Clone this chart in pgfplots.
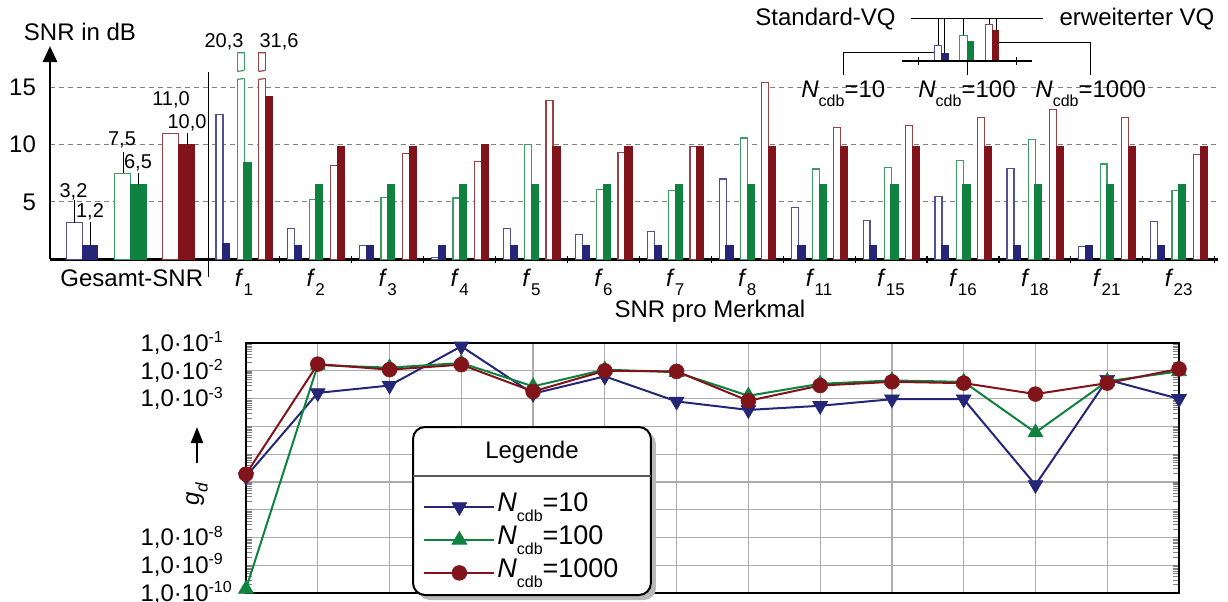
\documentclass[border=0pt]{standalone}
\usepackage{pgfplots}
\pgfplotsset{compat=1.18}
\usepackage{fontspec}
\setmainfont{Liberation Sans}
\usetikzlibrary{arrows.meta}

\definecolor{cblue}{RGB}{38,38,120}
\definecolor{cgreen}{RGB}{14,130,62}
\definecolor{cred}{RGB}{128,20,26}

\newcommand{\fnt}{\fontsize{12}{14}\selectfont}
\newcommand{\sfnt}{\fontsize{10}{12}\selectfont}
\newcommand{\fsub}[1]{\textit{f}\raisebox{-0.35em}{\fontsize{8.5}{9}\selectfont #1}}
\newcommand{\Ncdb}[1]{\textit{N}\raisebox{-0.38em}{\fontsize{8}{9}\selectfont cdb}=#1}
\newcommand{\tenp}[1]{1,0·10\textsuperscript{#1}}

% bar styles: Standard-VQ = outline, erweiterter VQ = filled
\pgfplotsset{
  std/.style={ybar, draw=#1!80, fill=white, line width=0.6pt},
  erw/.style={ybar, draw=#1, fill=#1, line width=0.6pt},
}

\begin{document}
\begin{tikzpicture}[x=0.5pt,y=-0.5pt,font=\fnt]
\useasboundingbox (0,0) rectangle (1228,601);

% ---------------- SNR bars ----------------
\begin{axis}[
  at={(25pt,-129.65pt)}, anchor=south west, scale only axis,
  width=584pt, height=103.25pt,
  xmin=-2.197, xmax=14.047, ymin=0, ymax=18,
  axis x line=bottom, axis y line=left,
  x axis line style={-, line width=1.4pt},
  y axis line style={-, line width=1.4pt},
  ytick={5,10,15}, yticklabels={5,10,15},
  yticklabel style={xshift=-3.5pt},
  ymajorgrids, major grid style={dash pattern=on 2.5pt off 2pt, gray, line width=0.5pt},
  xtick={-1.06,0.5,1.5,2.5,3.5,4.5,5.5,6.5,7.5,8.5,9.5,10.5,11.5,12.5,13.5},
  xticklabels={Gesamt-SNR,\fsub{1},\fsub{2},\fsub{3},\fsub{4},\fsub{5},\fsub{6},\fsub{7},\fsub{8},\fsub{11},\fsub{15},\fsub{16},\fsub{18},\fsub{21},\fsub{23}},
  minor xtick={1,2,...,14},
  major tick length=0pt, minor tick length=3.5pt, tick align=center,
  minor tick style={black, line width=0.6pt},
  tick label style={font=\fnt},
  xticklabel style={yshift=-1.5pt},
  clip mode=individual,
]
% Gesamt-SNR
\addplot[std=cblue,  bar width=0.216, bar shift=-0.797] coordinates {(-1.06,3.2)};
\addplot[erw=cblue,  bar width=0.216, bar shift=-0.581] coordinates {(-1.06,1.2)};
\addplot[std=cgreen, bar width=0.216, bar shift=-0.129] coordinates {(-1.06,7.5)};
\addplot[erw=cgreen, bar width=0.216, bar shift=0.093]  coordinates {(-1.06,6.5)};
\addplot[std=cred,   bar width=0.216, bar shift=0.538]  coordinates {(-1.06,11.0)};
\addplot[erw=cred,   bar width=0.216, bar shift=0.761]  coordinates {(-1.06,10.0)};

% SNR pro Merkmal
\addplot[std=cblue, bar width=0.097, bar shift=-0.34] coordinates {
  (0.5,12.65) (1.5,2.67) (2.5,1.22) (3.5,0.15) (4.5,2.67) (5.5,2.18) (6.5,2.44)
  (7.5,7.0) (8.5,4.5) (9.5,3.4) (10.5,5.49) (11.5,7.9) (12.5,1.1) (13.5,3.31)};
\addplot[erw=cblue, bar width=0.097, bar shift=-0.246] coordinates {
  (0.5,1.4) (1.5,1.2) (2.5,1.2) (3.5,1.2) (4.5,1.2) (5.5,1.2) (6.5,1.2)
  (7.5,1.2) (8.5,1.2) (9.5,1.2) (10.5,1.2) (11.5,1.2) (12.5,1.2) (13.5,1.2)};
\addplot[std=cgreen, bar width=0.097, bar shift=-0.044] coordinates {
  (0.5,20.3) (1.5,5.23) (2.5,5.4) (3.5,5.35) (4.5,10.03) (5.5,6.1) (6.5,5.99)
  (7.5,10.58) (8.5,7.88) (9.5,7.97) (10.5,8.6) (11.5,10.47) (12.5,8.31) (13.5,5.99)};
\addplot[erw=cgreen, bar width=0.097, bar shift=0.049] coordinates {
  (0.5,8.46) (1.5,6.5) (2.5,6.5) (3.5,6.5) (4.5,6.5) (5.5,6.5) (6.5,6.5)
  (7.5,6.5) (8.5,6.5) (9.5,6.5) (10.5,6.5) (11.5,6.5) (12.5,6.5) (13.5,6.5)};
\addplot[std=cred, bar width=0.097, bar shift=0.251] coordinates {
  (0.5,31.6) (1.5,8.2) (2.5,9.19) (3.5,8.52) (4.5,13.84) (5.5,9.3) (6.5,9.8)
  (7.5,15.44) (8.5,11.51) (9.5,11.69) (10.5,12.38) (11.5,13.05) (12.5,12.33) (13.5,9.16)};
\addplot[erw=cred, bar width=0.097, bar shift=0.348] coordinates {
  (0.5,14.19) (1.5,9.8) (2.5,9.8) (3.5,10.0) (4.5,9.8) (5.5,9.8) (6.5,9.8)
  (7.5,9.8) (8.5,9.8) (9.5,9.8) (10.5,9.8) (11.5,9.8) (12.5,9.8) (13.5,9.8)};

% broken bars of f1
\fill[white] (0.385,15.64) -- (0.527,15.78) -- (0.527,16.50) -- (0.385,16.36) -- cycle;
\draw[cgreen!80, line width=0.6pt] (0.4075,15.68) -- (0.5045,15.76) (0.4075,16.38) -- (0.5045,16.46) (0.4075,18) -- (0.5045,18);
\fill[white] (0.680,15.64) -- (0.822,15.78) -- (0.822,16.50) -- (0.680,16.36) -- cycle;
\draw[cred!80, line width=0.6pt] (0.7025,15.68) -- (0.7995,15.76) (0.7025,16.38) -- (0.7995,16.46) (0.7025,18) -- (0.7995,18);
\end{axis}

% y arrow, axis titles and separator
\draw[-{Triangle[width=7pt,length=8pt]}, line width=1.4pt] (50,240) -- (50,46);
\node at (80,32) {SNR in dB};
\node at (710,311) {SNR pro Merkmal};
\draw[line width=0.5pt] (208.3,72) -- (208.3,277);

% value labels
\begin{scope}[font=\sfnt, line width=0.5pt]
\node at (73.5,192) {3,2};  \draw (74,200) -- (74,223);
\node at (90,212) {1,2};    \draw (90,222) -- (90,246);
\node at (122,140) {7,5};   \draw (123,152) -- (123,173);
\node at (138,163) {6,5};   \draw (138,173) -- (138,185);
\node at (171,100) {11,0};
\node at (187,123) {10,0};  \draw (187,133) -- (187,145);
\node at (224,42) {20,3};
\node at (279,42) {31,6};
\end{scope}

% legend inset
\node at (825.5,19) {Standard-VQ};
\node at (1137,19) {erweiterter VQ};
\begin{scope}[line width=0.5pt]
\draw (911,18) -- (1043,18);
\draw (938,18) -- (938,45) (944,18) -- (944,53) (963,18) -- (963,35) (989,18) -- (989,24) (996,18) -- (996,30);
\draw[cblue!80, fill=white] (934,61) rectangle (941,45);
\fill[cblue] (941,61) rectangle (949,53);
\draw[cgreen!80, fill=white] (959,61) rectangle (967,35);
\fill[cgreen] (967,61) rectangle (974,41);
\draw[cred!80, fill=white] (985,61) rectangle (992,24);
\fill[cred] (992,61) rectangle (999,30);
\draw[line width=1pt] (902,61) -- (1032,61);
\draw (918,57) -- (918,65) (1016,57) -- (1016,65);
\draw (843,75) -- (843,52) -- (934,52);
\draw (967,61) -- (967,75);
\draw (999,42) -- (1090,42) -- (1090,75);
\end{scope}
\node[anchor=base west, inner sep=0pt] at (801,97) {\Ncdb{10}};
\node[anchor=base west, inner sep=0pt] at (918,97) {\Ncdb{100}};
\node[anchor=base west, inner sep=0pt] at (1035,97) {\Ncdb{1000}};

% ---------------- g_d (log) ----------------
\begin{axis}[
  at={(123pt,-296.5pt)}, anchor=south west, scale only axis,
  width=466.5pt, height=125pt,
  xmin=0, xmax=13, ymode=log, ymin=1e-10, ymax=1e-1,
  xtick={0,...,13}, xticklabels={},
  ytick={1e-10,1e-9,1e-8,1e-7,1e-6,1e-5,1e-4,1e-3,1e-2,1e-1},
  yticklabels={{\tenp{-10}},{\tenp{-9}},{\tenp{-8}},,,,,{\tenp{-3}},{\tenp{-2}},{\tenp{-1}}},
  yticklabel style={text width=47pt, align=left, inner xsep=0pt, xshift=-5.5pt, font=\fnt},
  grid=major, major grid style={gray!65, line width=0.6pt},
  major tick length=0pt,
  axis line style={line width=1pt},
  clip=false,
  legend style={at={(0.1897,0.412)}, anchor=north west, draw=none, fill=none, inner sep=0pt,
    font=\fontsize{13.5}{16}\selectfont, legend cell align=left,
    nodes={inner sep=1pt, text height=9.5pt, text depth=5pt},
    /tikz/every even column/.append style={column sep=8.5pt}},
  legend image code/.code={\draw[mark repeat=2,mark phase=2] plot coordinates {(0pt,0pt) (17.5pt,0pt) (35pt,0pt)};},
]
\addplot[cblue, line width=1pt, mark=triangle*, mark size=4.3pt, mark options={solid, rotate=180, line width=0.3pt}] coordinates {
  (0,1.55e-6) (1,1.6e-3) (2,2.95e-3) (3,7.6e-2) (4,1.5e-3) (5,6.3e-3) (6,7.9e-4)
  (7,3.9e-4) (8,5.5e-4) (9,9.5e-4) (10,9.5e-4) (11,7.8e-7) (12,4.8e-3) (13,9.8e-4)};
\addlegendentry{\Ncdb{10}}
\addplot[cgreen, line width=1pt, mark=triangle*, mark size=4.3pt, mark options={solid, line width=0.3pt}] coordinates {
  (0,1.4e-10) (1,1.6e-2) (2,1.3e-2) (3,1.9e-2) (4,2.75e-3) (5,1.1e-2) (6,8.9e-3)
  (7,1.26e-3) (8,3.4e-3) (9,4.5e-3) (10,4.0e-3) (11,6.0e-5) (12,4.2e-3) (13,9.5e-3)};
\addlegendentry{\Ncdb{100}}
\addplot[cred, line width=1pt, mark=*, mark size=3.7pt, mark options={solid, line width=0.3pt}] coordinates {
  (0,1.9e-6) (1,1.74e-2) (2,1.1e-2) (3,1.66e-2) (4,1.8e-3) (5,1.0e-2) (6,9.5e-3)
  (7,8.3e-4) (8,2.95e-3) (9,4.0e-3) (10,3.6e-3) (11,1.45e-3) (12,3.6e-3) (13,1.17e-2)};
\addlegendentry{\Ncdb{1000}}

% legend frame
\fill[gray!55, rounded corners=6pt] (rel axis cs:0.1844,0.644) rectangle (rel axis cs:0.4394,-0.028);
\draw[fill=white, line width=1pt, rounded corners=6pt] (rel axis cs:0.179,0.664) rectangle (rel axis cs:0.434,-0.008);
\draw[line width=0.6pt, gray!70!black] (rel axis cs:0.179,0.468) -- (rel axis cs:0.434,0.468);
\node at (rel axis cs:0.3065,0.564) {Legende};
\end{axis}

% y label of lower plot
\draw[-{Triangle[width=6pt,length=8pt]}, line width=1.2pt] (197,463) -- (197,427);
\node[rotate=90] at (197,494) {\textit{g}\raisebox{-0.35em}{\fontsize{8.5}{9}\selectfont\textit{d}}};
\end{tikzpicture}
\end{document}
